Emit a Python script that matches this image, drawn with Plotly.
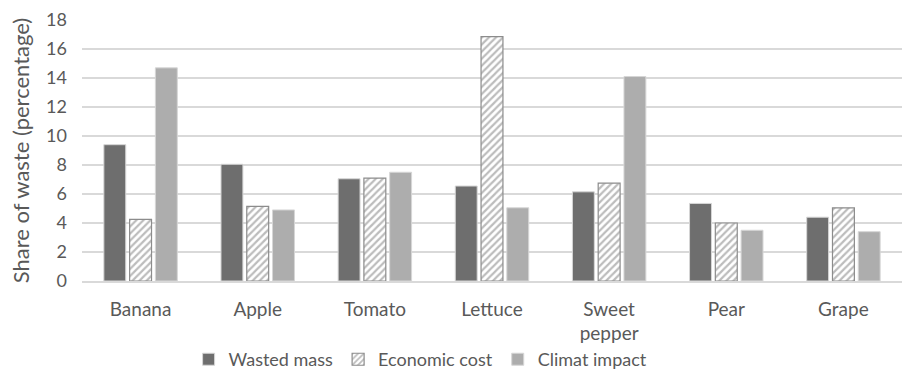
import plotly.graph_objects as go

categories = ["Banana", "Apple", "Tomato", "Lettuce", "Sweet<br>pepper", "Pear", "Grape"]
wasted_mass = [9.4, 8.05, 7.05, 6.55, 6.15, 5.35, 4.4]
economic_cost = [4.25, 5.15, 7.1, 16.85, 6.75, 4.0, 5.05]
climat_impact = [14.7, 4.9, 7.5, 5.05, 14.1, 3.5, 3.4]
y_ticks = [0, 2, 4, 6, 8, 10, 12, 14, 16, 18]

FONT = "Lato, Open Sans, sans-serif"
TEXT = "#595959"
EDGE = dict(color="#d6d6d6", width=1)

fig = go.Figure()
fig.add_trace(go.Bar(
    name="Wasted mass", x=categories, y=wasted_mass,
    marker=dict(color="#6e6e6e", line=EDGE),
))
fig.add_trace(go.Bar(
    name="Economic cost", x=categories, y=economic_cost,
    marker=dict(color="#ffffff", line=dict(color="#8c8c8c", width=1.2),
                pattern=dict(shape="/", fgcolor="#7a7a7a", bgcolor="#ffffff",
                             size=5, solidity=0.45)),
))
fig.add_trace(go.Bar(
    name="Climat impact", x=categories, y=climat_impact,
    marker=dict(color="#adadad", line=EDGE),
))

fig.update_layout(
    width=902, height=370,
    margin=dict(l=82, r=0, t=20, b=89, autoexpand=False),
    paper_bgcolor="white", plot_bgcolor="white",
    barmode="group", bargap=0.34, bargroupgap=0.15,
    font=dict(family=FONT, color=TEXT),
    showlegend=True,
    legend=dict(orientation="h", x=0.13, xanchor="left", y=-0.23, yanchor="top",
                font=dict(size=18, color=TEXT), itemwidth=30,
                bgcolor="rgba(0,0,0,0)", traceorder="normal"),
)
fig.update_xaxes(
    tickfont=dict(size=19, color=TEXT), showgrid=False,
    showline=True, linecolor="#d9d9d9", linewidth=1.5, ticks="",
    ticklabelstandoff=10,
)
fig.update_yaxes(
    range=[0, 18], tickvals=y_ticks, tickfont=dict(size=18, color=TEXT),
    showgrid=True, gridcolor="#d9d9d9", gridwidth=1.5, zeroline=False,
    title=dict(text="Share of waste (percentage)", font=dict(size=22, color=TEXT), standoff=10),
    ticks="", showline=False, ticklabelstandoff=14,
)

fig.write_html("out.html")
